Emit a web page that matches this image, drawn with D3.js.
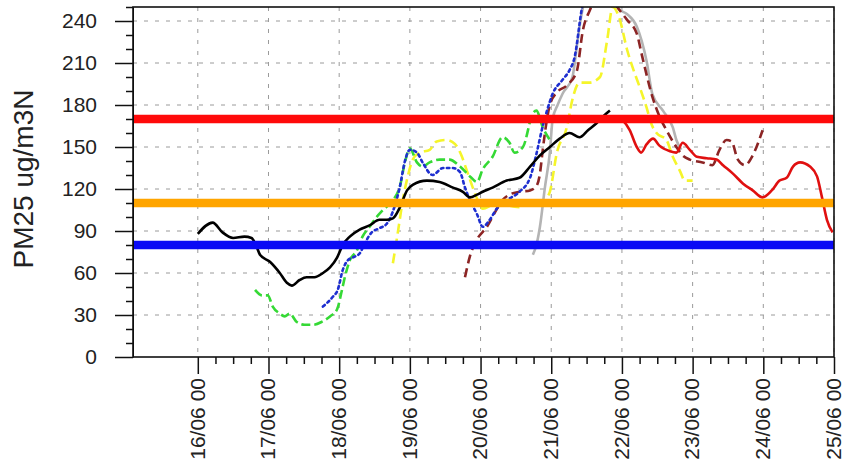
<!DOCTYPE html>
<html>
<head>
<meta charset="utf-8">
<script src="https://cdn.jsdelivr.net/npm/d3@7"></script>
<style>
  body { margin: 0; background: #fff; }
  svg { display: block; font-family: "Liberation Sans", Arial, sans-serif; }
</style>
</head>
<body>
<svg id="chart" width="844" height="469"></svg>
<script>
// x values are days after 16/06 00, y values in ug/m3N
const black = [[0.00,88],[0.21,96],[0.35,89],[0.50,85],[0.66,86],[0.76,85],[0.83,79],[0.88,73],[1.02,68],[1.16,60],[1.26,53],[1.33,51],[1.44,55],[1.54,57],[1.65,57],[1.77,60],[1.87,64],[1.97,71],[2.05,80],[2.15,86],[2.29,91],[2.43,94],[2.57,98],[2.67,98],[2.76,99],[2.86,107],[2.96,119],[3.04,123],[3.24,126],[3.42,125],[3.61,121],[3.75,118],[3.85,114],[3.95,116],[4.03,118],[4.17,121],[4.37,126],[4.55,128],[4.70,136],[4.84,144],[4.98,150],[5.12,156],[5.26,160],[5.40,157],[5.52,162],[5.64,167],[5.76,173],[5.83,176]]
const green = [[0.81,48],[0.91,44],[0.99,44],[1.06,36],[1.16,31],[1.23,29],[1.30,31],[1.40,25],[1.51,23],[1.63,23],[1.75,25],[1.87,29],[1.97,34],[2.04,48],[2.08,57],[2.15,69],[2.25,76],[2.33,86],[2.43,93],[2.53,100],[2.62,105],[2.76,112],[2.86,122],[2.93,139],[3.00,149],[3.10,139],[3.18,136],[3.28,139],[3.42,141],[3.56,141],[3.71,136],[3.85,129],[3.95,125],[4.03,134],[4.17,143],[4.31,157],[4.41,153],[4.48,146],[4.60,150],[4.74,174],[4.79,176],[4.88,164],[4.98,155]]
const blue = [[1.77,36],[1.91,43],[1.98,48],[2.05,62],[2.12,69],[2.19,71],[2.29,74],[2.36,81],[2.46,89],[2.57,92],[2.67,95],[2.76,104],[2.86,122],[2.93,140],[3.00,148],[3.10,146],[3.18,139],[3.32,130],[3.47,135],[3.61,135],[3.71,132],[3.78,121],[3.85,112],[3.95,102],[4.03,93],[4.13,98],[4.23,106],[4.37,112],[4.55,118],[4.70,128],[4.79,145],[4.88,165],[4.94,176],[5.02,188],[5.16,198],[5.26,205],[5.33,214],[5.43,248],[5.46,256]]
const yellow = [[2.76,67],[2.83,89],[2.90,112],[2.97,129],[3.04,141],[3.14,146],[3.28,148],[3.38,154],[3.52,155],[3.64,152],[3.73,144],[3.80,134],[3.89,121],[3.96,112],[4.03,106],[4.20,109],[4.41,108],[4.55,107],[4.70,112],[4.84,110],[4.94,114],[4.98,118],[5.08,146],[5.22,164],[5.30,184],[5.40,196],[5.54,196],[5.69,200],[5.79,226],[5.87,250],[5.97,241],[6.07,220],[6.15,207],[6.25,193],[6.35,178],[6.42,166],[6.49,160],[6.63,155],[6.72,143],[6.82,133],[6.89,126],[7.00,126]]
const brown = [[3.78,57],[3.85,72],[3.95,84],[4.09,93],[4.20,103],[4.31,112],[4.41,116],[4.55,118],[4.70,119],[4.79,122],[4.84,131],[4.88,148],[4.94,170],[4.98,180],[5.08,189],[5.22,194],[5.36,204],[5.45,234],[5.54,247],[5.64,256],[5.83,256],[5.93,250],[6.07,241],[6.21,231],[6.29,214],[6.43,186],[6.53,172],[6.63,162],[6.77,150],[6.86,144],[6.96,141],[7.14,139],[7.28,137],[7.38,148],[7.48,155],[7.55,154],[7.64,141],[7.74,137],[7.85,144],[7.99,162]]
const gray = [[4.74,73],[4.79,80],[4.84,93],[4.91,121],[4.98,146],[5.02,170],[5.09,180],[5.16,188],[5.30,200],[5.37,225],[5.43,245],[5.49,256],[5.86,256],[5.97,248],[6.07,245],[6.21,236],[6.35,211],[6.43,188],[6.58,176],[6.72,164],[6.77,155],[6.84,148]]
const red = [[5.86,170],[5.94,171],[6.01,169],[6.11,162],[6.21,150],[6.27,146],[6.35,152],[6.44,156],[6.53,151],[6.68,147],[6.77,146],[6.86,153],[6.96,148],[7.06,143],[7.20,142],[7.34,141],[7.43,137],[7.57,131],[7.71,124],[7.85,119],[7.99,114],[8.12,119],[8.23,126],[8.33,128],[8.42,136],[8.52,139],[8.66,136],[8.76,129],[8.83,114],[8.90,98],[8.98,89]]

const limits = [{v:170, c:"#ff0a0a"}, {v:110, c:"#ffa500"}, {v:80, c:"#0a0af5"}]
const yTicks = [0,30,60,90,120,150,180,210,240]
const dayTicks = d3.range(16, 26) // 16/06 .. 25/06

const svg = d3.select("#chart")
const mLeft = 133, mRight = 834, mTop = 7, mBottom = 357

const t0 = Date.UTC(2020,5,16)
const toDate = d => new Date(t0 + d*864e5)
const dayDate = d => new Date(Date.UTC(2020,5,d))

const x = d3.scaleUtc()
  .domain([new Date(Date.UTC(2020,5,15,2)), dayDate(25)])
  .range([mLeft, mRight])
const y = d3.scaleLinear().domain([0,250]).range([mBottom, mTop])

svg.append("clipPath").attr("id","plotclip")
  .append("rect").attr("x",mLeft).attr("y",mTop).attr("width",mRight-mLeft).attr("height",mBottom-mTop)

// grid
const grid = svg.append("g").attr("stroke","#9a9a9a").attr("stroke-width",1).attr("stroke-dasharray","4,7")
grid.selectAll("line.h").data(yTicks.slice(1)).join("line").attr("class","h")
  .attr("x1",mLeft).attr("x2",mRight).attr("y1",d=>y(d)).attr("y2",d=>y(d))
grid.selectAll("line.v").data(dayTicks).join("line").attr("class","v")
  .attr("x1",d=>x(dayDate(d))).attr("x2",d=>x(dayDate(d)))
  .attr("y1",mTop).attr("y2",mBottom)

// series
const line = d3.line().x(d=>x(toDate(d[0]))).y(d=>y(d[1])).curve(d3.curveMonotoneX)
const series = [
  {data: gray, color:"#b4b4b4", dash:null},
  {data: brown, color:"#8c2424", dash:"9,5"},
  {data: yellow, color:"#f5f52a", dash:"10,5"},
  {data: green, color:"#35d935", dash:"9,4"},
  {data: blue, color:"#1e2fd0", dash:"2.5,3.5"},
  {data: red, color:"#e01010", dash:null},
  {data: black, color:"#000", dash:null}
]
const plot = svg.append("g").attr("clip-path","url(#plotclip)")
series.forEach(s => {
  plot.append("path").datum(s.data)
    .attr("fill","none").attr("stroke",s.color).attr("stroke-width",2.6)
    .attr("stroke-dasharray",s.dash).attr("stroke-linecap", s.dash && s.dash.startsWith("2.5") ? "round" : "butt")
    .attr("d",line)
})

// limit lines
plot.selectAll("line.limit").data(limits).join("line").attr("class","limit")
  .attr("x1",mLeft).attr("x2",mRight).attr("y1",d=>y(d.v)).attr("y2",d=>y(d.v))
  .attr("stroke",d=>d.c).attr("stroke-width",8.5)

// axes
const yAxis = svg.append("g").attr("transform",`translate(${mLeft},0)`)
  .call(d3.axisLeft(y).tickValues(yTicks).tickSize(18).tickSizeOuter(0).tickPadding(18))
yAxis.selectAll("text").attr("font-size",21).attr("fill","#222").attr("font-family","Liberation Sans, Arial, sans-serif")
svg.append("g").attr("transform",`translate(${mLeft},0)`)
  .call(d3.axisLeft(y).tickValues(d3.range(0,251,10).filter(v=>v%30)).tickSize(7).tickFormat(""))
  .call(g=>g.select(".domain").remove())

const xAxis = svg.append("g").attr("transform",`translate(0,${mBottom})`)
  .call(d3.axisBottom(x).tickValues(dayTicks.map(dayDate))
    .tickSize(17).tickSizeOuter(0).tickFormat(d3.utcFormat("%d/%m %H")))
xAxis.select(".domain").remove()
xAxis.selectAll("text")
  .attr("font-size",21).attr("fill","#222").attr("font-family","Liberation Sans, Arial, sans-serif")
  .attr("transform","rotate(-90)").attr("text-anchor","end")
  .attr("x",-21).attr("y",0).attr("dy","0.3em")
svg.append("g").attr("transform",`translate(0,${mBottom})`)
  .call(d3.axisBottom(x).tickValues(d3.range(16*4, 25*4).filter(h=>h%4).map(h=>new Date(Date.UTC(2020,5,0,h*6))))
    .tickSize(7).tickFormat(""))
  .call(g=>g.select(".domain").remove())
svg.selectAll(".tick line").attr("stroke","#111").attr("stroke-width",1.5)

// frame
svg.append("rect").attr("x",mLeft).attr("y",mTop).attr("width",mRight-mLeft).attr("height",mBottom-mTop)
  .attr("fill","none").attr("stroke","#111").attr("stroke-width",1.6)

// y title
svg.append("text").attr("transform","translate(33,179) rotate(-90)")
  .attr("text-anchor","middle").attr("font-size",28).attr("fill","#222")
  .text("PM25 ug/m3N")
</script>
</body>
</html>
